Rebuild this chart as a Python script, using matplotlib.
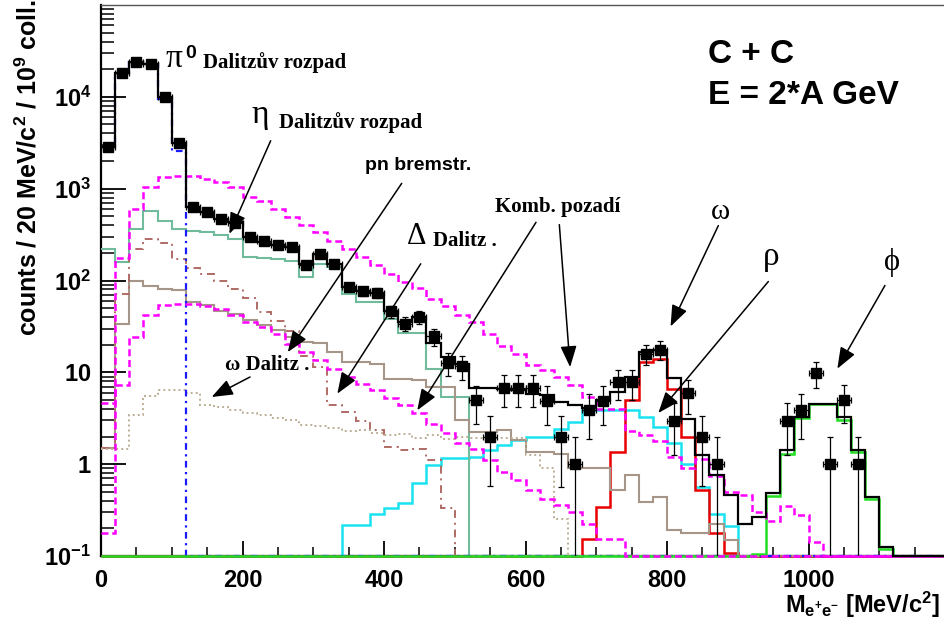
import numpy as np
import matplotlib
matplotlib.use("Agg")
import matplotlib.pyplot as plt
from matplotlib.ticker import LogLocator, MultipleLocator, NullFormatter

plt.rcParams['font.family'] = 'Liberation Sans'
plt.rcParams['font.weight'] = 'bold'
plt.rcParams['mathtext.fontset'] = 'custom'
plt.rcParams['mathtext.rm'] = 'Liberation Sans:bold'
plt.rcParams['mathtext.bf'] = 'Liberation Sans:bold'
plt.rcParams['mathtext.it'] = 'Liberation Sans:bold:italic'

# e+e- invariant mass, 20 MeV/c^2 bins from 0 to 1200
bin_edges = np.arange(0, 1220, 20)

total = [2860, 18100, 24000, 22600, 10000, 3140, 627, 558, 464, 430,
         296, 265, 244, 230, 150, 195, 151, 85, 76, 73,
         46, 35, 40, 21, 14.7, 12.4, 6.8, 6.8, 6.6, 6.5,
         5.8, 5.6, 4.8, 4.4, 4.1, 5.0, 6.1, 8.9, 16.6, 17.7,
         8.6, 3.14, 1.25, 0.76, 0.46, 0.226, 0.263, 0.48, 1.42, 3.27,
         4.57, 4.57, 3.27, 1.42, 0.44, 0.126, 0, 0, 0, 0]

pi0_dalitz = [2860, 18100, 24000, 22600, 9500, 2590, 0, 0, 0, 0,
              0, 0, 0, 0, 0, 0, 0, 0, 0, 0,
              0, 0, 0, 0, 0, 0, 0, 0, 0, 0,
              0, 0, 0, 0, 0, 0, 0, 0, 0, 0,
              0, 0, 0, 0, 0, 0, 0, 0, 0, 0,
              0, 0, 0, 0, 0, 0, 0, 0, 0, 0]

eta_dalitz = [221, 158, 363, 566, 449, 363, 349, 340, 315, 284,
              179, 177, 172, 165, 110, 151, 140, 72, 58, 58,
              38, 27, 27, 10.8, 5.4, 5.4, 0, 0, 0, 0,
              0, 0, 0, 0, 0, 0, 0, 0, 0, 0,
              0, 0, 0, 0, 0, 0, 0, 0, 0, 0,
              0, 0, 0, 0, 0, 0, 0, 0, 0, 0]

# combinatorial background, upper / lower estimate
comb_upper = [0.18, 175, 603, 1030, 1330, 1370, 1370, 1290, 1175, 1030,
              810, 740, 603, 487, 407, 335, 272, 221, 179, 146,
              118, 96, 83, 63, 53, 41.7, 35, 26, 19.6, 16,
              11.9, 10.5, 9.0, 7.2, 5.4, 4.0, 4.0, 2.3, 2.1, 1.8,
              1.2, 0.9, 1.15, 0.75, 0.5, 0.46, 0.30, 0.24, 0.35, 0.28,
              0.143, 0, 0, 0, 0, 0, 0, 0, 0, 0]

comb_lower = [4.6, 7.2, 24, 41.7, 53.5, 56, 56, 53, 49, 41.7,
              35, 31, 26, 20.3, 16.6, 13.5, 11, 8.9, 7.5, 6.4,
              5.2, 4.4, 3.6, 2.77, 2.16, 1.68, 1.45, 1.1, 0.82, 0.67,
              0.52, 0.42, 0.36, 0.30, 0.226, 0.155, 0.155, 0, 0, 0,
              0, 0, 0, 0, 0, 0, 0, 0, 0, 0,
              0, 0, 0, 0, 0, 0, 0, 0, 0, 0]

pn_brems = [1.5, 34, 100, 88, 81, 78, 58, 53.5, 47, 43.5,
            36.7, 33, 28.6, 24.2, 21.4, 21, 16.6, 12.9, 12.9, 12.4,
            8.5, 8.5, 8.2, 6.9, 6.9, 3.0, 2.24, 2.24, 2.34, 1.82,
            1.36, 1.36, 1.3, 0.9, 0.9, 0.9, 0.52, 0.76, 0.39, 0.44,
            0.19, 0.177, 0.177, 0.223, 0.149, 0, 0, 0, 0, 0,
            0, 0, 0, 0, 0, 0, 0, 0, 0, 0]

delta_dalitz = [1.5, 72, 220, 284, 255, 170, 137, 118, 100, 80,
                65, 45, 36, 28, 15, 11.4, 4.4, 3.7, 2.96, 2.34,
                1.52, 1.42, 1.45, 1.1, 0.33, 0, 0, 0, 0, 0,
                0, 0, 0, 0, 0, 0, 0, 0, 0, 0,
                0, 0, 0, 0, 0, 0, 0, 0, 0, 0,
                0, 0, 0, 0, 0, 0, 0, 0, 0, 0]

omega_dalitz = [1.48, 1.48, 3.4, 5.5, 6.4, 6.4, 6.0, 4.4, 4.2, 3.9,
                3.6, 3.4, 3.2, 3.0, 2.7, 2.6, 2.5, 2.3, 2.35, 2.2,
                2.1, 2.15, 1.95, 2.1, 1.9, 2.0, 1.95, 1.95, 1.95, 1.95,
                1.25, 0.9, 0.25, 0, 0, 0, 0, 0, 0, 0,
                0, 0, 0, 0, 0, 0, 0, 0, 0, 0,
                0, 0, 0, 0, 0, 0, 0, 0, 0, 0]

rho = [0, 0, 0, 0, 0, 0, 0, 0, 0, 0,
       0, 0, 0, 0, 0, 0, 0, 0.217, 0.217, 0.29,
       0.33, 0.374, 0.63, 0.98, 1.18, 1.18, 1.2, 1.42, 1.6, 1.82,
       1.98, 1.98, 2.44, 2.9, 3.86, 3.9, 3.9, 3.9, 3.27, 2.54,
       1.68, 1.0, 0.57, 0.29, 0.21, 0, 0, 0, 0, 0,
       0, 0, 0, 0, 0, 0, 0, 0, 0, 0]

omega = [0, 0, 0, 0, 0, 0, 0, 0, 0, 0,
         0, 0, 0, 0, 0, 0, 0, 0, 0, 0,
         0, 0, 0, 0, 0, 0, 0, 0, 0, 0,
         0, 0, 0, 0, 0.155, 0.34, 1.37, 4.97, 12.9, 14.1,
         6.6, 1.98, 0.52, 0.18, 0.107, 0, 0, 0, 0, 0,
         0, 0, 0, 0, 0, 0, 0, 0, 0, 0]

phi = [0, 0, 0, 0, 0, 0, 0, 0, 0, 0,
       0, 0, 0, 0, 0, 0, 0, 0, 0, 0,
       0, 0, 0, 0, 0, 0, 0, 0, 0, 0,
       0, 0, 0, 0, 0, 0, 0, 0, 0, 0,
       0, 0, 0, 0, 0, 0, 0.105, 0.45, 1.3, 3.2,
       4.5, 4.5, 3.0, 1.35, 0.42, 0.12, 0, 0, 0, 0]

# measured pairs (bin centres)
data_mass = [10, 30, 50, 70, 90, 110, 130, 150, 170, 190,
             210, 230, 250, 270, 290, 310, 330, 350, 370, 390,
             410, 430, 450, 470, 490, 510, 530, 550, 570, 590,
             610, 630, 650, 670, 690, 710, 730, 750, 770, 790,
             810, 830, 850, 870, 970, 990, 1010, 1030, 1050, 1070]
data_counts = [2860, 18100, 24000, 22600, 10000, 3140, 627, 558, 464, 420,
               296, 266, 244, 230, 148, 195, 151, 85, 76, 73,
               46, 34, 40, 24.6, 12.7, 11.7, 4.97, 1.98, 6.8, 6.8,
               6.8, 4.9, 1.97, 1.0, 3.86, 4.9, 7.85, 7.85, 16.0, 17.7,
               2.96, 5.9, 1.98, 1.0, 2.96, 3.86, 9.8, 1.0, 5.0, 1.0]
data_err = [60, 150, 170, 160, 110, 60, 25, 24, 22, 21,
            17, 16, 16, 15, 12, 14, 12, 9, 9, 9,
            7, 6, 6.5, 5, 3.6, 3.4, 2.2, 1.4, 2.6, 2.6,
            2.6, 2.2, 1.4, 1.0, 2.0, 2.2, 2.8, 2.8, 4.0, 4.2,
            1.7, 2.4, 1.4, 1.0, 1.7, 2.0, 3.1, 1.0, 2.2, 1.0]

mass_ticks = [0, 200, 400, 600, 800, 1000]
mass_tick_labels = ['0', '200', '400', '600', '800', '1000']
count_ticks = [0.1, 1, 10, 100, 1000, 10000]
count_tick_labels = [r'$\mathbf{10^{-1}}$', r'$\mathbf{1}$', r'$\mathbf{10}$',
                     r'$\mathbf{10^{2}}$', r'$\mathbf{10^{3}}$', r'$\mathbf{10^{4}}$']

Y_MIN, Y_MAX = 0.1, 1e5
SERIF = ['Liberation Serif', 'DejaVu Serif']


def draw_hist(ax, values, **style):
    # empty bins are pinned to the bottom edge so they run along the axis
    vals = np.clip(np.asarray(values, dtype=float), Y_MIN, None)
    ax.stairs(vals, bin_edges, baseline=None, fill=False, clip_on=False, **style)


def arrow(ax, tail, head):
    ax.annotate('', xy=head, xytext=tail, xycoords='data', textcoords='data',
                arrowprops=dict(arrowstyle='-|>,head_length=0.65,head_width=0.25',
                                color='black', lw=1.1, shrinkA=0, shrinkB=0,
                                mutation_scale=20), zorder=8)


def make_plot():
    fig = plt.figure(figsize=(9.44, 6.33), dpi=100)
    ax = fig.add_axes([0.107, 0.1216, 0.8994, 0.8705])
    ax.set_yscale('log')
    ax.set_xlim(0, 1200)
    ax.set_ylim(Y_MIN, Y_MAX)

    # model components
    draw_hist(ax, rho, color='#19e3f0', lw=1.8, zorder=3)
    draw_hist(ax, omega, color='#e80000', lw=1.8, zorder=3)
    draw_hist(ax, eta_dalitz, color='#6fbb9b', lw=1.5, zorder=3)
    draw_hist(ax, pn_brems, color='#a59689', lw=1.5, zorder=3)
    draw_hist(ax, delta_dalitz, color='#b06a64', lw=1.4, ls=(0, (4, 2.5, 1, 2.5)), zorder=3)
    draw_hist(ax, omega_dalitz, color='#bcae94', lw=1.4, ls=(0, (1, 1.6)), zorder=3)
    draw_hist(ax, pi0_dalitz, color='#1a1aff', lw=1.6, ls=(0, (3, 2, 1, 2)), zorder=3)
    draw_hist(ax, phi, color='#22dd22', lw=1.8, zorder=4)
    draw_hist(ax, comb_upper, color='#ff00ff', lw=1.8, ls=(0, (2.8, 1.5)), zorder=5)
    draw_hist(ax, comb_lower, color='#ff00ff', lw=1.8, ls=(0, (2.8, 1.5)), zorder=5)
    draw_hist(ax, total, color='black', lw=1.6, zorder=6)

    ax.errorbar(data_mass, data_counts, yerr=data_err, xerr=10, fmt='s',
                color='black', ms=6.5, elinewidth=0.9, capsize=2, capthick=0.9,
                zorder=7)

    # axes, ROOT-like ticks
    ax.set_xticks(mass_ticks, labels=mass_tick_labels)
    ax.xaxis.set_minor_locator(MultipleLocator(50))
    ax.set_yticks(count_ticks, labels=count_tick_labels)
    ax.yaxis.set_minor_locator(LogLocator(base=10, subs=np.arange(2, 10), numticks=30))
    ax.yaxis.set_minor_formatter(NullFormatter())
    ax.tick_params(which='both', direction='in', top=False, right=False)
    ax.tick_params(axis='y', which='major', length=18, width=1.3, pad=7, labelsize=17)
    ax.tick_params(axis='y', which='minor', length=9.5, width=1.1)
    ax.tick_params(axis='x', which='major', length=11, width=1.3, pad=9, labelsize=17)
    ax.tick_params(axis='x', which='minor', length=6.5, width=1.1)
    for lab in ax.get_xticklabels():
        lab.set_fontweight('bold')

    ax.spines['right'].set_visible(False)
    ax.spines['top'].set_color('#555555')
    ax.spines['top'].set_linewidth(1.0)
    ax.spines['left'].set_linewidth(1.6)
    ax.spines['bottom'].set_linewidth(1.6)

    fig.text(0.030, 0.735, r'counts / 20 MeV/c$^{2}$ / 10$^{9}$ coll.',
             rotation=90, ha='center', va='center', fontsize=18, fontweight='bold')
    fig.text(0.996, 0.02, r'$\mathbf{M}_{\mathbf{e^{+}e^{-}}}$ [MeV/c$^{\mathbf{2}}$]',
             ha='right', va='bottom', fontsize=17, fontweight='bold')

    # system label
    ax.text(0.715, 0.911, 'C + C', transform=ax.transAxes, fontsize=24,
            fontweight='bold', va='center', ha='left')
    ax.text(0.715, 0.835, 'E = 2*A GeV', transform=ax.transAxes, fontsize=24,
            fontweight='bold', va='center', ha='left')

    # component labels
    ax.text(103, 25900, 'π', family=SERIF, fontsize=24, fontweight='normal',
            ha='center', va='center')
    ax.text(127, 30000, '0', fontsize=14, fontweight='bold', ha='center', va='center')
    ax.text(144, 23400, 'Dalitzův rozpad', family=SERIF, fontsize=15,
            fontweight='bold', ha='left', va='center')

    ax.text(225, 6370, 'η', family=SERIF, fontsize=24, fontweight='normal',
            ha='center', va='center')
    ax.text(252, 5200, 'Dalitzův rozpad', family=SERIF, fontsize=15,
            fontweight='bold', ha='left', va='center')

    ax.text(373, 1780, 'pn bremstr.', fontsize=14, fontweight='bold',
            ha='left', va='center')

    ax.text(446, 301, 'Δ', family=SERIF, fontsize=22, fontweight='normal',
            ha='center', va='center')
    ax.text(469, 272, 'Dalitz .', family=SERIF, fontsize=15, fontweight='bold',
            ha='left', va='center')

    ax.text(557, 637, 'Komb. pozadí', family=SERIF, fontsize=15,
            fontweight='bold', ha='left', va='center')

    ax.text(875, 562, 'ω', family=SERIF, fontsize=21, fontweight='normal',
            ha='center', va='center')
    ax.text(947, 182, 'ρ', family=SERIF, fontsize=24, fontweight='normal',
            ha='center', va='center')
    ax.text(1118, 157, 'ϕ', family=SERIF, fontsize=22, fontweight='normal',
            ha='center', va='center')

    ax.text(175, 11.9, 'ω Dalitz .', family=SERIF, fontsize=15,
            fontweight='bold', ha='left', va='center')

    arrow(ax, (239.8, 3325), (181.4, 322))     # eta Dalitz
    arrow(ax, (425, 1143), (264, 16.6))        # pn bremsstrahlung
    arrow(ax, (451.9, 152), (334, 5.86))       # Delta Dalitz
    arrow(ax, (614.8, 430), (447, 3.86))       # combinatorial bg
    arrow(ax, (647.8, 406), (663, 11.4))
    arrow(ax, (872.5, 396), (805, 31.6))       # omega
    arrow(ax, (943.2, 97.5), (787.7, 3.61))    # rho
    arrow(ax, (1108, 88.3), (1040.7, 10.96))   # phi
    arrow(ax, (210.6, 8.9), (156.4, 5.39))     # omega Dalitz

    fig.savefig('out.png', dpi=100)


if __name__ == "__main__":
    make_plot()
